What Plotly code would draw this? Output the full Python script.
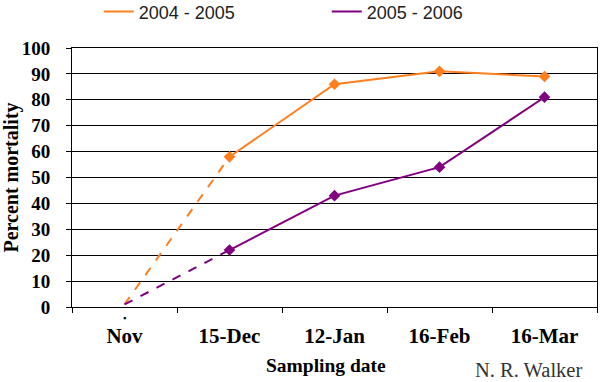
import plotly.graph_objects as go

categories = ["Nov", "15-Dec", "12-Jan", "16-Feb", "16-Mar"]
series_names = ["2004 - 2005", "2005 - 2006"]
values_0405 = [1, 58, 86, 91, 89]
values_0506 = [1, 22, 43, 54, 81]
y_ticks = list(range(0, 101, 10))

colors = ["#FF7F1E", "#800080"]
fig = go.Figure()

for name, vals, col in zip(series_names, [values_0405, values_0506], colors):
    # dashed extrapolation to Nov
    fig.add_trace(go.Scatter(x=categories[:2], y=vals[:2], mode="lines",
                             line=dict(color=col, width=2, dash="dash"),
                             showlegend=False, hoverinfo="skip"))
    fig.add_trace(go.Scatter(x=categories[1:], y=vals[1:], mode="lines+markers",
                             line=dict(color=col, width=2),
                             marker=dict(symbol="diamond", size=9, color=col),
                             showlegend=False, name=name))
    fig.add_trace(go.Scatter(x=[None], y=[None], mode="lines",
                             line=dict(color=col, width=2), name=name,
                             showlegend=True))

SERIF = "Liberation Serif"
tfont = dict(family=SERIF, size=21, color="black", weight="bold")

fig.update_layout(
    width=600, height=382,
    margin=dict(l=72, r=3, t=48, b=75, autoexpand=False),
    paper_bgcolor="white", plot_bgcolor="white",
    showlegend=True,
    legend=dict(orientation="h", x=0.051, xanchor="left", y=0.969, yanchor="middle",
                yref="container", entrywidth=183,
                font=dict(family="Liberation Sans", size=18, color="#222"),
                bgcolor="rgba(0,0,0,0)"),
    xaxis=dict(
        type="category", categoryorder="array", categoryarray=categories,
        tickson="boundaries", ticks="outside", ticklen=5, tickcolor="black",
        showline=True, linecolor="black", linewidth=1, mirror=True,
        showgrid=False, tickfont=tfont, automargin=False, ticklabelstandoff=10,
        range=[-0.5, 4.5],
    ),
    yaxis=dict(
        range=[0, 100], tickvals=y_ticks, ticks="outside", ticklen=5, tickcolor="black",
        showline=True, linecolor="black", linewidth=1, mirror=True,
        showgrid=True, gridcolor="black", gridwidth=1, zeroline=False,
        tickfont=dict(tfont, size=19), automargin=False, ticklabelstandoff=12,
        title=dict(text="Percent mortality", font=dict(tfont, size=20), standoff=0),
    ),
)

fig.add_annotation(x=0.484, y=-0.224, xref="paper", yref="paper", text="Sampling date",
                   showarrow=False, xanchor="center", yanchor="middle",
                   font=dict(tfont, size=19.5))

fig.add_annotation(x="Nov", y=0, xref="x", yref="y", text="▪", showarrow=False,
                   yshift=-10, font=dict(size=9, color="black"))
fig.add_annotation(x=0.975, y=-0.245, xref="paper", yref="paper", xanchor="right",
                   yanchor="middle", text="N. R. Walker", showarrow=False,
                   font=dict(family="Liberation Serif", size=20.5, color="#333"))

fig.write_html("out.html", post_script="document.body.style.margin='0';",
               config={"displayModeBar": False})
